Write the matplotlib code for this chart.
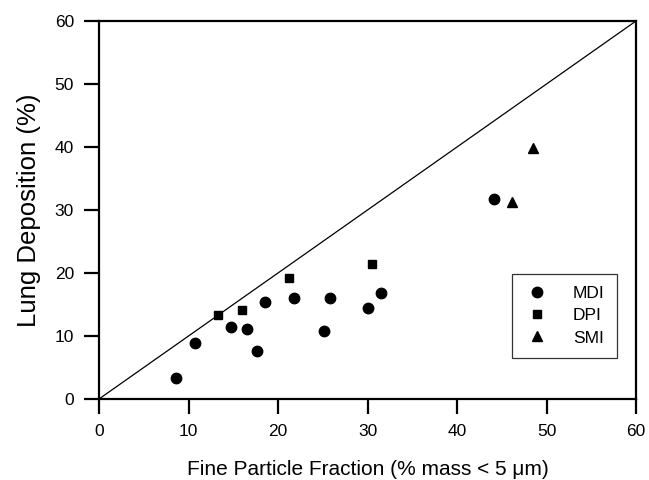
import matplotlib
matplotlib.use("Agg")
import matplotlib.pyplot as plt

plt.rcParams['font.family'] = ['Liberation Sans', 'DejaVu Sans']

mdi_x = [8.6, 10.7, 14.8, 16.5, 17.6, 18.5, 21.8, 25.8, 25.1, 30.1, 31.5, 44.1]
mdi_y = [3.3, 8.9, 11.4, 11.1, 7.6, 15.4, 16.1, 16.0, 10.8, 14.4, 16.8, 31.7]
dpi_x = [13.3, 16.0, 21.2, 30.5]
dpi_y = [13.3, 14.1, 19.2, 21.4]
smi_x = [46.1, 48.5]
smi_y = [31.2, 39.8]
ticks = [0, 10, 20, 30, 40, 50, 60]

fig = plt.figure(figsize=(6.49, 4.8), dpi=100)
ax = fig.add_axes([99/649, 1-399/480, (636-99)/649, (399-21)/480])

ax.plot([0, 60], [0, 60], color='black', lw=0.9, zorder=1)
ax.plot(mdi_x, mdi_y, 'o', color='black', ms=7.5, ls='none', label='MDI', zorder=3)
ax.plot(dpi_x, dpi_y, 's', color='black', ms=6, ls='none', label='DPI', zorder=3)
ax.plot(smi_x, smi_y, '^', color='black', ms=7, ls='none', label='SMI', zorder=3)

ax.set_xlim(0, 60)
ax.set_ylim(0, 60)
ax.set_xticks(ticks)
ax.set_yticks(ticks)
ax.tick_params(direction='out', length=11, width=1.6, labelsize=12.5, pad=7, colors='black')
for s in ax.spines.values():
    s.set_linewidth(1.6)

ax.set_xlabel('Fine Particle Fraction (% mass < 5 \u03bcm)', fontsize=15, labelpad=15)
ax.set_ylabel('Lung Deposition (%)', fontsize=18.5, labelpad=10)

leg = ax.legend(loc='lower right', bbox_to_anchor=(617/649, 1-357.7/480), bbox_transform=fig.transFigure,
                frameon=True, fancybox=False, fontsize=12.5, handletextpad=1.4,
                borderpad=0.7, labelspacing=0.4, handlelength=1.4, borderaxespad=0)
leg.get_frame().set_edgecolor('black')
leg.get_frame().set_linewidth(0.9)

fig.savefig('out.png', dpi=100)
